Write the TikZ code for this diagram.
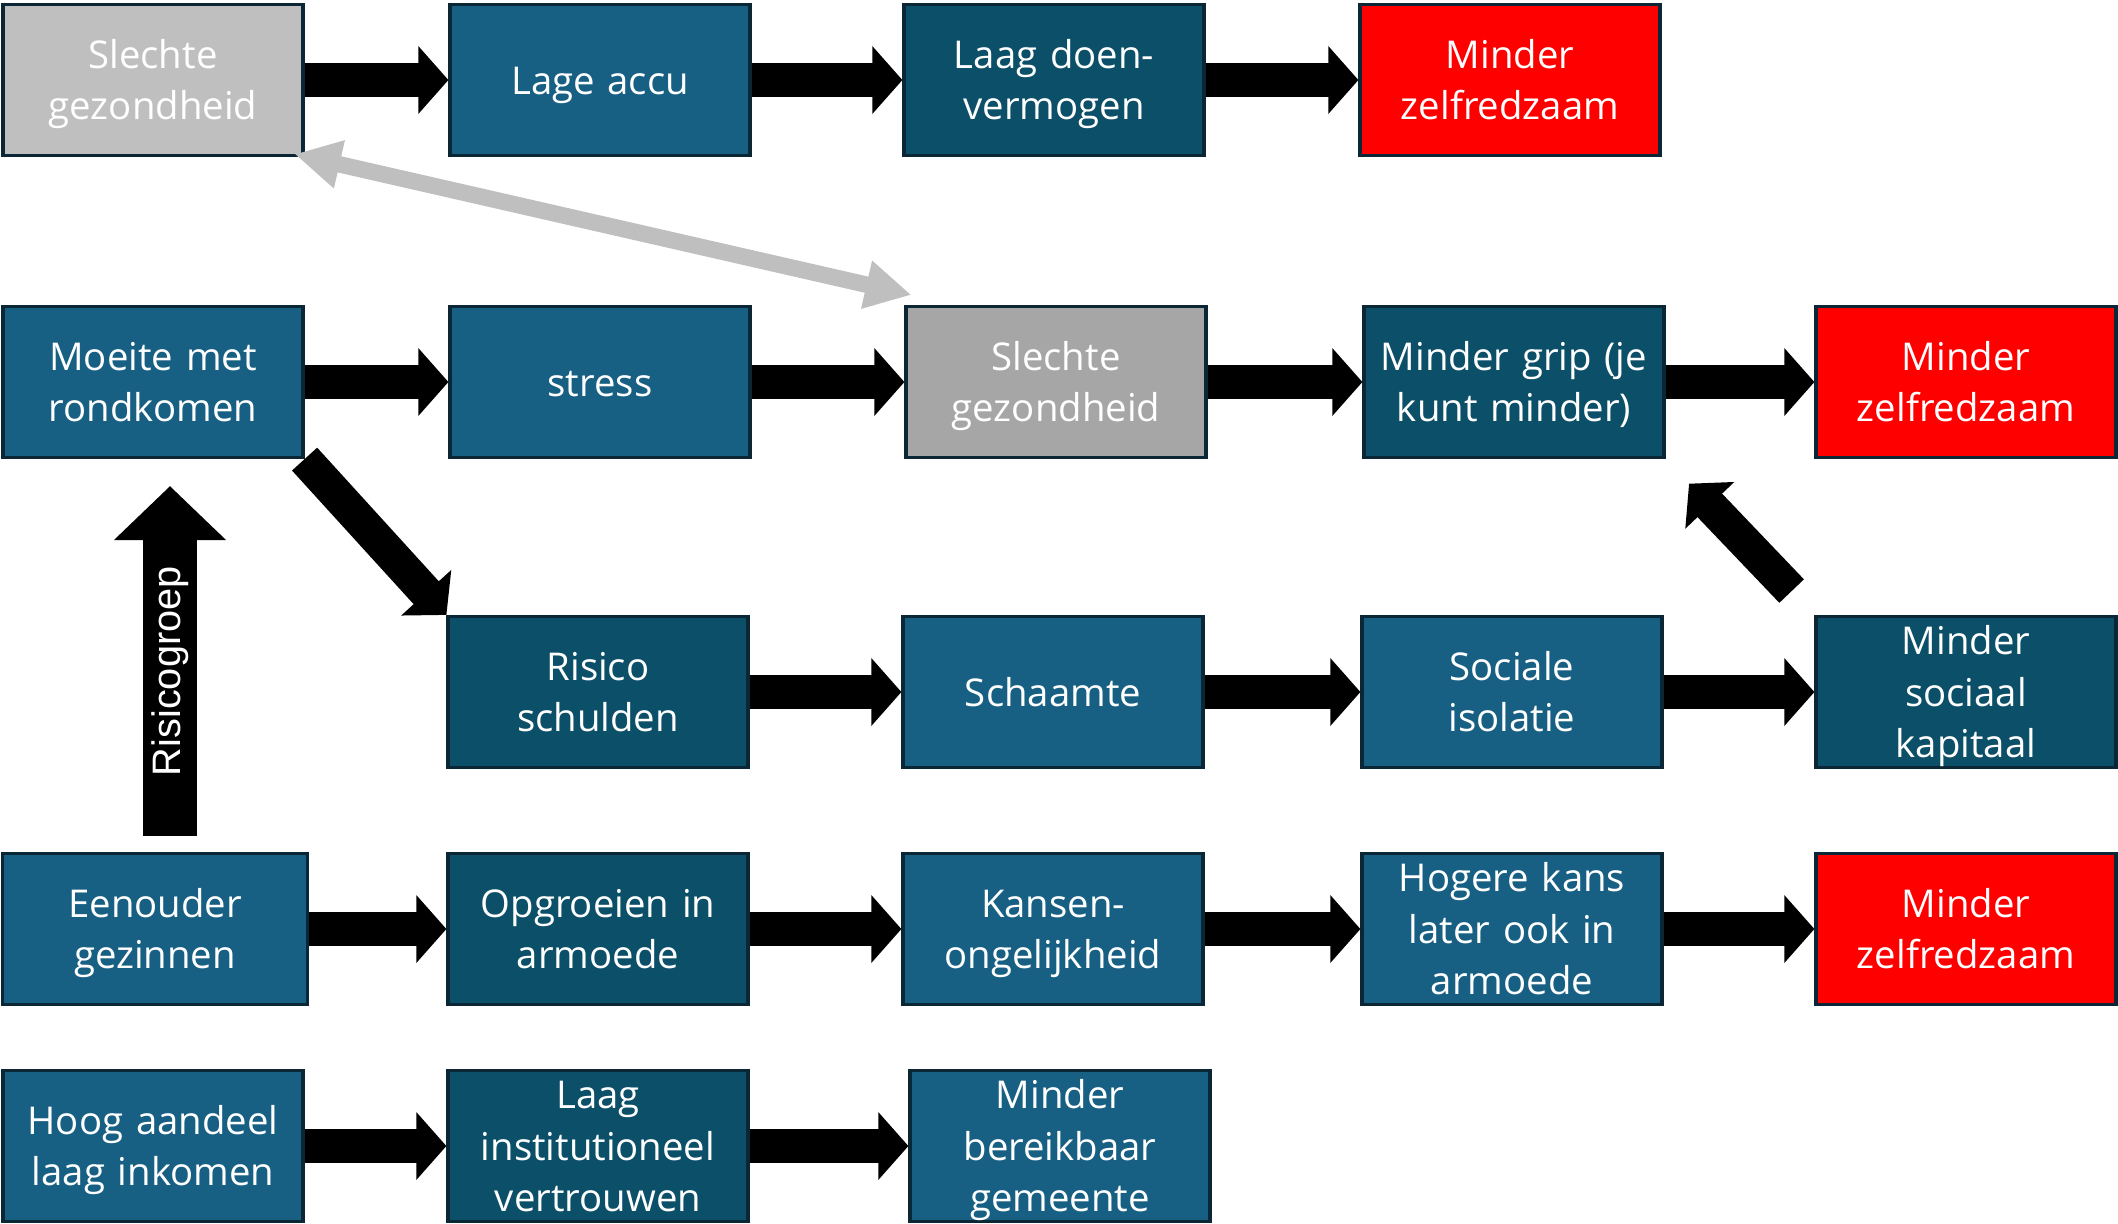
\documentclass[tikz,border=0pt]{standalone}
\usepackage{fontspec}
\setmainfont{Open Sans}
\newfontfamily\risfont{Liberation Sans}
\usepackage{tikz}
\usetikzlibrary{arrows.meta,positioning}
\definecolor{midblue}{HTML}{176083}
\definecolor{darkblue}{HTML}{0C4F68}
\definecolor{boxline}{HTML}{0B2634}
\definecolor{grayone}{HTML}{BFBFBF}
\definecolor{graytwo}{HTML}{A6A6A6}
\tikzstyle{box} = [draw=boxline, line width=0.9pt, rectangle, fill=midblue,
    minimum width=3cm, minimum height=1.51cm, inner sep=0pt, text=white,
    text width=2.9cm, align=center, font=\fontsize{10.9}{14.6}\selectfont,
    execute at begin node={\rule{0pt}{10.6pt}},
    execute at end node={\rule[-2.6pt]{0pt}{2.6pt}}]
\tikzstyle{blk} = [black, line width=3.4mm, -{Triangle[width=6.6mm,length=3mm]}]
\tikzstyle{upblk} = [black, line width=5.4mm, -{Triangle[width=10.9mm,length=5.4mm]}]
\tikzstyle{grayarr} = [grayone, line width=1.65mm,
    {Triangle[width=4.6mm,length=4.6mm]}-{Triangle[width=4.6mm,length=4.6mm]}]

\begin{document}
\begin{tikzpicture}[node distance = 4.5cm, auto]
  \useasboundingbox (0,0) rectangle (21.18,-12.23);
  % row 1
  \node [box, fill=grayone] (sg1) at (1.53,-0.80) {Slechte\\gezondheid};
  \node [box, right of=sg1, node distance=4.47cm] (accu) {Lage accu};
  \node [box, fill=darkblue, right of=accu, node distance=4.54cm] (doen) {Laag doen-\\vermogen};
  \node [box, fill=red, right of=doen, node distance=4.56cm] (zelf1) {Minder\\zelfredzaam};
  % row 2
  \node [box] (moeite) at (1.53,-3.82) {Moeite met\\rondkomen};
  \node [box, right of=moeite, node distance=4.47cm] (stress) {stress};
  \node [box, fill=graytwo, right of=stress, node distance=4.56cm] (sg2) {Slechte\\gezondheid};
  \node [box, fill=darkblue, right of=sg2, node distance=4.58cm] (grip) {Minder grip (je\\kunt minder)};
  \node [box, fill=red, right of=grip, node distance=4.52cm] (zelf2) {Minder\\zelfredzaam};
  % row 3
  \node [box, fill=darkblue] (schuld) at (5.98,-6.92) {Risico\\schulden};
  \node [box, right of=schuld, node distance=4.55cm] (schaamte) {Schaamte};
  \node [box, right of=schaamte, node distance=4.59cm] (isolatie) {Sociale\\isolatie};
  \node [box, fill=darkblue, right of=isolatie, node distance=4.54cm] (kapitaal) {Minder\\sociaal\\kapitaal};
  % row 4
  \node [box, minimum width=3.05cm] (eenouder) at (1.55,-9.29) {Eenouder\\gezinnen};
  \node [box, fill=darkblue, right of=eenouder, node distance=4.43cm] (opgroeien) {Opgroeien in\\armoede};
  \node [box, right of=opgroeien, node distance=4.55cm] (kansen) {Kansen-\\ongelijkheid};
  \node [box, right of=kansen, node distance=4.59cm] (hogere) {Hogere kans\\later ook in\\armoede};
  \node [box, fill=red, right of=hogere, node distance=4.54cm] (zelf3) {Minder\\zelfredzaam};
  % row 5
  \node [box] (hoog) at (1.53,-11.46) {Hoog aandeel\\laag inkomen};
  \node [box, fill=darkblue, right of=hoog, node distance=4.45cm] (vertrouwen) {Laag\\institutioneel\\vertrouwen};
  \node [box, right of=vertrouwen, node distance=4.62cm] (bereik) {Minder\\bereikbaar\\gemeente};

  \draw [blk] (sg1) -- (accu);
  \draw [blk] (accu) -- (doen);
  \draw [blk] (doen) -- (zelf1);
  \draw [blk] (moeite) -- (stress);
  \draw [blk] (stress) -- (sg2);
  \draw [blk] (sg2) -- (grip);
  \draw [blk] (grip) -- (zelf2);
  \draw [blk] (schuld) -- (schaamte);
  \draw [blk] (schaamte) -- (isolatie);
  \draw [blk] (isolatie) -- (kapitaal);
  \draw [blk] (eenouder) -- (opgroeien);
  \draw [blk] (opgroeien) -- (kansen);
  \draw [blk] (kansen) -- (hogere);
  \draw [blk] (hogere) -- (zelf3);
  \draw [blk] (hoog) -- (vertrouwen);
  \draw [blk] (vertrouwen) -- (bereik);
  \draw [blk] (moeite.south east) -- (schuld.north west);
  \draw [blk, shorten <=3.3mm, shorten >=3.4mm] (kapitaal.north west) -- (grip.south east);
  \draw [upblk, shorten <=1.6mm, shorten >=2.7mm] ([xshift=1.5mm]eenouder.north)
    -- ([xshift=1.5mm]eenouder.north |- moeite.south)
    node [pos=0.46, sloped, auto=false, anchor=center, text=white,
      font=\risfont\fontsize{11.3}{13}\selectfont] {Risicogroep};
  \draw [grayarr] ([shift={(-0.1,0.03)}]sg1.south east) -- ([shift={(0.07,0.1)}]sg2.north west);
\end{tikzpicture}
\end{document}
